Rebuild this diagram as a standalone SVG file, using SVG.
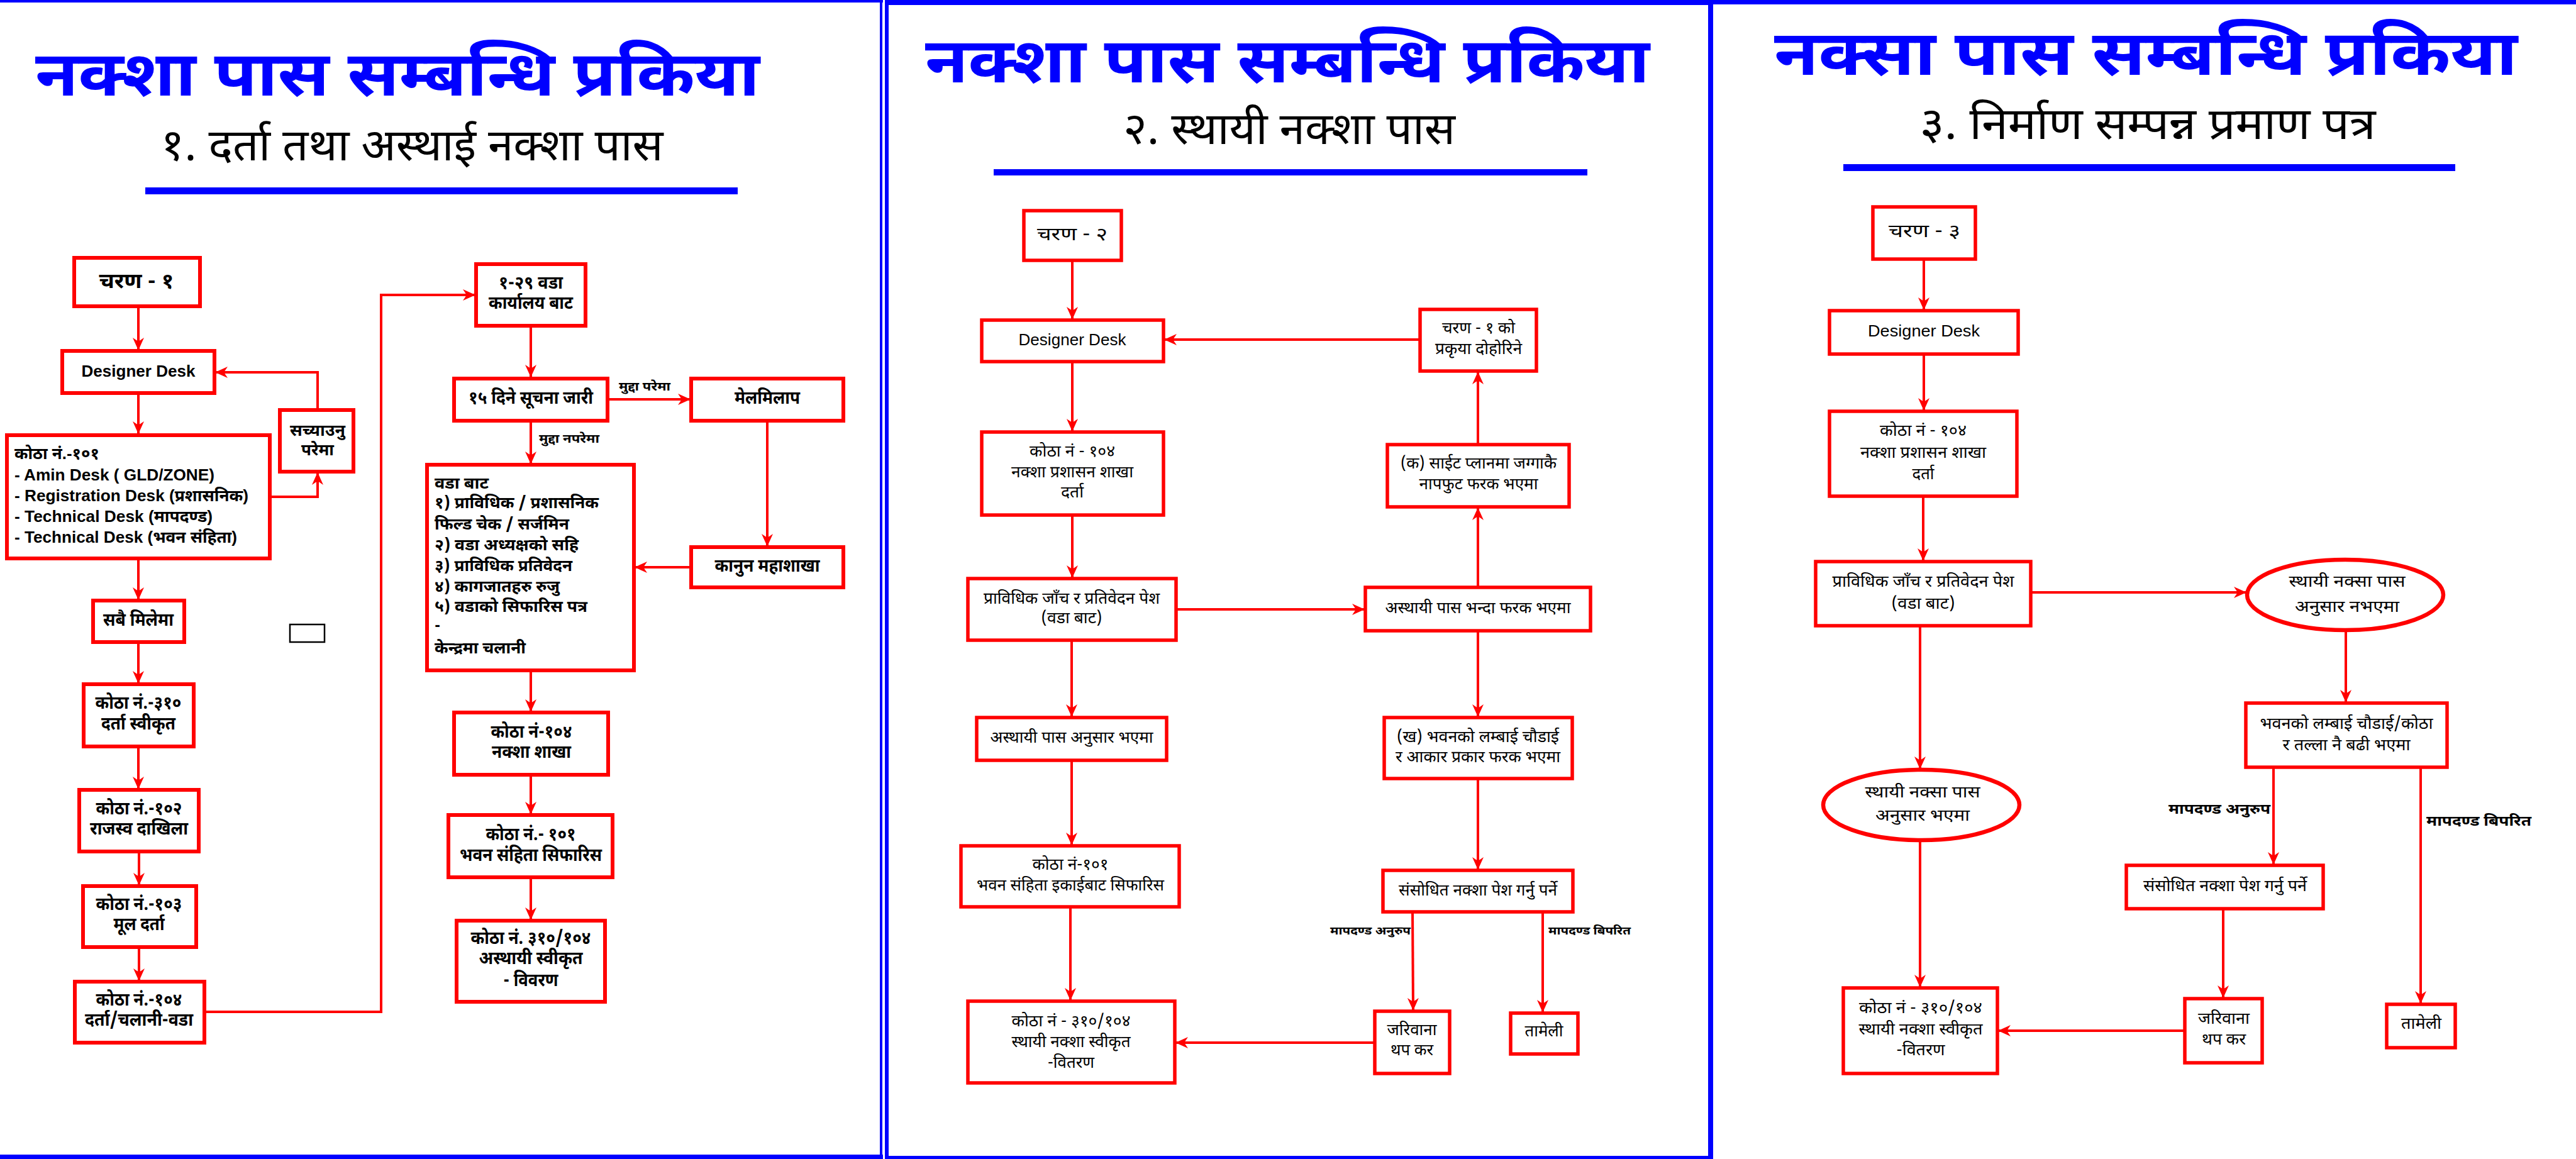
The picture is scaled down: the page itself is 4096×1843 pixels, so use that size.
<svg xmlns="http://www.w3.org/2000/svg" width="4096" height="1843" viewBox="0 0 4096 1843">
<defs>
<marker id="ah" viewBox="0 0 20 20" refX="19" refY="10" markerWidth="20" markerHeight="20" markerUnits="userSpaceOnUse" orient="auto"><path d="M0,1 L20,10 L0,19 L6,10 z" fill="#FF0000"/></marker>
<style>
text{font-family:"Noto Sans Devanagari","Noto Sans","Liberation Sans",sans-serif;fill:#000}
.ttl{font-size:100px;font-weight:bold;fill:#0000FF;text-anchor:middle}
.sub{font-size:70px;text-anchor:middle}
.b1{font-size:28px;font-weight:bold;text-anchor:middle}
.b1l{font-size:25px;font-weight:bold}
.lat{font-family:"Liberation Sans","Noto Sans Devanagari",sans-serif}
.lb1{font-size:19px;font-weight:bold}
.r2{font-size:26px;text-anchor:middle}
.lb2{font-size:18px;font-weight:bold}
.lb3{font-size:22px;font-weight:bold}
.box{fill:#FFFFFF;stroke:#FF0000;stroke-width:6}
.box2{fill:#FFFFFF;stroke:#FF0000;stroke-width:5.5}
.ell{fill:#FFFFFF;stroke:#FF0000;stroke-width:6.5}
.c1{fill:none;stroke:#FF0000;stroke-width:4;marker-end:url(#ah)}
.c2{fill:none;stroke:#FF0000;stroke-width:4;marker-end:url(#ah)}
.bl{fill:#0000FF}
</style>
</defs>
<rect width="4096" height="1843" fill="#FFFFFF"/>

<g id="frames">
<rect class="bl" x="0" y="0" width="1404" height="4"/>
<rect class="bl" x="1399" y="0" width="4" height="1843"/>
<rect class="bl" x="0" y="1836" width="1404" height="7"/>
<rect class="bl" x="1407" y="0" width="1315" height="8"/>
<rect class="bl" x="1407" y="0" width="6" height="1843"/>
<rect class="bl" x="2716" y="0" width="8" height="1843"/>
<rect class="bl" x="1407" y="1838" width="1315" height="5"/>
<rect class="bl" x="2716" y="0" width="1380" height="7"/>
</g>

<g id="headings">
<text class="ttl" x="632" y="152" textLength="1152" lengthAdjust="spacingAndGlyphs">नक्शा पास सम्बन्धि प्रकिया</text>
<text class="sub" x="655" y="255" textLength="799" lengthAdjust="spacingAndGlyphs">१. दर्ता तथा अस्थाई नक्शा पास</text>
<rect class="bl" x="231" y="298" width="942" height="11"/>
<text class="ttl" x="2047" y="131" textLength="1152" lengthAdjust="spacingAndGlyphs">नक्शा पास सम्बन्धि प्रकिया</text>
<text class="sub" x="2050" y="229" textLength="528" lengthAdjust="spacingAndGlyphs">२. स्थायी नक्शा पास</text>
<rect class="bl" x="1580" y="269" width="944" height="10"/>
<text class="ttl" x="3412" y="119" textLength="1182" lengthAdjust="spacingAndGlyphs">नक्सा पास सम्बन्धि प्रकिया</text>
<text class="sub" x="3415" y="221" textLength="725" lengthAdjust="spacingAndGlyphs">३. निर्माण सम्पन्न प्रमाण पत्र</text>
<rect class="bl" x="2931" y="261" width="973" height="11"/>
</g>

<g id="connectors">
<path class="c1" d="M220,488 V556"/>
<path class="c1" d="M220,625 V689"/>
<path class="c1" d="M429,790 H505 V752"/>
<path class="c1" d="M505,652 V592 H343"/>
<path class="c1" d="M220,888 V953"/>
<path class="c1" d="M220,1021 V1086"/>
<path class="c1" d="M220,1187 V1254"/>
<path class="c1" d="M221,1354 V1407"/>
<path class="c1" d="M221,1506 V1559"/>
<path class="c1" d="M325,1609 H606 V469 H755"/>
<path class="c1" d="M844,518 V599"/>
<path class="c1" d="M966,635 H1097"/>
<path class="c1" d="M1220,669 V868"/>
<path class="c1" d="M1099,902 H1010"/>
<path class="c1" d="M844,669 V737"/>
<path class="c1" d="M844,1066 V1131"/>
<path class="c1" d="M844,1232 V1294"/>
<path class="c1" d="M844,1395 V1462"/>
<path class="c2" d="M1705,414 V507"/>
<path class="c2" d="M1705,575 V685"/>
<path class="c2" d="M1705,819 V918"/>
<path class="c2" d="M1870,969 H2169"/>
<path class="c2" d="M2350,934 V808"/>
<path class="c2" d="M2350,707 V592"/>
<path class="c2" d="M2258,540 H1852"/>
<path class="c2" d="M1704,1018 V1139"/>
<path class="c2" d="M1704,1209 V1343"/>
<path class="c2" d="M1702,1442 V1590"/>
<path class="c2" d="M2350,1003 V1139"/>
<path class="c2" d="M2350,1238 V1382"/>
<path class="c2" d="M2246,1450 L2247,1606"/>
<path class="c2" d="M2453,1450 V1609"/>
<path class="c2" d="M2186,1658 H1870"/>
<path class="c2" d="M3059,412 V492"/>
<path class="c2" d="M3059,563 V652"/>
<path class="c2" d="M3058,789 V891"/>
<path class="c2" d="M3229,942 H3571"/>
<path class="c2" d="M3730,1002 V1116"/>
<path class="c2" d="M3053,995 V1222"/>
<path class="c2" d="M3053,1336 V1569"/>
<path class="c2" d="M3615,1220 V1374"/>
<path class="c2" d="M3535,1445 V1586"/>
<path class="c2" d="M3849,1220 V1595"/>
<path class="c2" d="M3474,1639 H3178"/>
</g>

<g id="edge-labels">
<text class="lb1" x="984" y="621" textLength="82" lengthAdjust="spacingAndGlyphs">मुद्दा परेमा</text>
<text class="lb1" x="857" y="704" textLength="96" lengthAdjust="spacingAndGlyphs">मुद्दा नपरेमा</text>
<text class="lb2" x="2115" y="1486" textLength="128" lengthAdjust="spacingAndGlyphs">मापदण्ड अनुरुप</text>
<text class="lb2" x="2462" y="1486" textLength="131" lengthAdjust="spacingAndGlyphs">मापदण्ड बिपरित</text>
<text class="lb3" x="3448" y="1294" textLength="162" lengthAdjust="spacingAndGlyphs">मापदण्ड अनुरुप</text>
<text class="lb3" x="3858" y="1313" textLength="167" lengthAdjust="spacingAndGlyphs">मापदण्ड बिपरित</text>
</g>

<g id="p1-charan1"><rect class="box" x="118" y="410" width="200" height="77"/>
<text class="b1" x="217" y="458" style="font-size:33px" textLength="119" lengthAdjust="spacingAndGlyphs">चरण - १</text></g>
<g id="p1-designer"><rect class="box" x="99" y="558" width="242" height="67"/>
<text class="b1 lat" x="220" y="599" style="font-size:26px" textLength="181" lengthAdjust="spacingAndGlyphs">Designer Desk</text></g>
<g id="p1-kotha101"><rect class="box" x="11" y="692" width="418" height="196"/>
<text class="b1l lat" x="23" y="730" textLength="135" lengthAdjust="spacingAndGlyphs">कोठा नं.-१०१</text>
<text class="b1l lat" x="23" y="764" textLength="318" lengthAdjust="spacingAndGlyphs">- Amin Desk ( GLD/ZONE)</text>
<text class="b1l lat" x="23" y="797" textLength="372" lengthAdjust="spacingAndGlyphs">- Registration Desk (प्रशासनिक)</text>
<text class="b1l lat" x="23" y="830" textLength="315" lengthAdjust="spacingAndGlyphs">- Technical Desk (मापदण्ड)</text>
<text class="b1l lat" x="23" y="863" textLength="354" lengthAdjust="spacingAndGlyphs">- Technical Desk (भवन संहिता)</text></g>
<g id="p1-sachyaunu"><rect class="box" x="445" y="652" width="117" height="98"/>
<text class="b1" x="505" y="693" style="font-size:26px" textLength="88" lengthAdjust="spacingAndGlyphs">सच्याउनु</text>
<text class="b1" x="505" y="724" style="font-size:26px" textLength="52" lengthAdjust="spacingAndGlyphs">परेमा</text></g>
<g id="p1-sabai"><rect class="box" x="148" y="955" width="145" height="66"/>
<text class="b1" x="220" y="995" textLength="112" lengthAdjust="spacingAndGlyphs">सबै मिलेमा</text></g>
<g id="p1-blank"><rect x="461" y="993" width="55" height="28" fill="#FFFFFF" stroke="#000000" stroke-width="2.5"/></g>
<g id="p1-kotha310"><rect class="box" x="133" y="1088" width="175" height="99"/>
<text class="b1" x="220" y="1127" textLength="137" lengthAdjust="spacingAndGlyphs">कोठा नं.-३१०</text>
<text class="b1" x="220" y="1160" textLength="118" lengthAdjust="spacingAndGlyphs">दर्ता स्वीकृत</text></g>
<g id="p1-kotha102"><rect class="box" x="126" y="1256" width="190" height="98"/>
<text class="b1" x="221" y="1295" textLength="137" lengthAdjust="spacingAndGlyphs">कोठा नं.-१०२</text>
<text class="b1" x="221" y="1327" textLength="156" lengthAdjust="spacingAndGlyphs">राजस्व दाखिला</text></g>
<g id="p1-kotha103"><rect class="box" x="132" y="1409" width="180" height="97"/>
<text class="b1" x="221" y="1447" textLength="137" lengthAdjust="spacingAndGlyphs">कोठा नं.-१०३</text>
<text class="b1" x="221" y="1479" textLength="81" lengthAdjust="spacingAndGlyphs">मूल दर्ता</text></g>
<g id="p1-kotha104"><rect class="box" x="119" y="1561" width="206" height="97"/>
<text class="b1" x="221" y="1599" textLength="137" lengthAdjust="spacingAndGlyphs">कोठा नं.-१०४</text>
<text class="b1" x="221" y="1631" textLength="172" lengthAdjust="spacingAndGlyphs">दर्ता/चलानी-वडा</text></g>
<g id="p1-wada"><rect class="box" x="757" y="420" width="174" height="98"/>
<text class="b1" x="844" y="459" textLength="102" lengthAdjust="spacingAndGlyphs">१-२९ वडा</text>
<text class="b1" x="844" y="491" textLength="134" lengthAdjust="spacingAndGlyphs">कार्यालय बाट</text></g>
<g id="p1-suchana"><rect class="box" x="722" y="602" width="244" height="67"/>
<text class="b1" x="844" y="642" textLength="198" lengthAdjust="spacingAndGlyphs">१५ दिने सूचना जारी</text></g>
<g id="p1-melmilap"><rect class="box" x="1099" y="602" width="242" height="67"/>
<text class="b1" x="1220" y="642" textLength="104" lengthAdjust="spacingAndGlyphs">मेलमिलाप</text></g>
<g id="p1-kanun"><rect class="box" x="1099" y="870" width="242" height="64"/>
<text class="b1" x="1220" y="909" textLength="167" lengthAdjust="spacingAndGlyphs">कानुन महाशाखा</text></g>
<g id="p1-wadabata"><rect class="box" x="679" y="739" width="329" height="327"/>
<text class="b1l" x="691" y="777" textLength="86" lengthAdjust="spacingAndGlyphs">वडा बाट</text>
<text class="b1l" x="691" y="808" textLength="261" lengthAdjust="spacingAndGlyphs">१) प्राविधिक / प्रशासनिक</text>
<text class="b1l" x="691" y="842" textLength="214" lengthAdjust="spacingAndGlyphs">फिल्ड चेक / सर्जमिन</text>
<text class="b1l" x="691" y="875" textLength="229" lengthAdjust="spacingAndGlyphs">२) वडा अध्यक्षको सहि</text>
<text class="b1l" x="691" y="908" textLength="219" lengthAdjust="spacingAndGlyphs">३) प्राविधिक प्रतिवेदन</text>
<text class="b1l" x="691" y="941" textLength="199" lengthAdjust="spacingAndGlyphs">४) कागजातहरु रुजु</text>
<text class="b1l" x="691" y="973" textLength="243" lengthAdjust="spacingAndGlyphs">५) वडाको सिफारिस पत्र</text>
<text class="b1l" x="691" y="1003">-</text>
<text class="b1l" x="691" y="1039" textLength="145" lengthAdjust="spacingAndGlyphs">केन्द्रमा चलानी</text></g>
<g id="p1-naksasakha"><rect class="box" x="722" y="1133" width="245" height="99"/>
<text class="b1" x="845" y="1173" textLength="129" lengthAdjust="spacingAndGlyphs">कोठा नं-१०४</text>
<text class="b1" x="845" y="1205" textLength="126" lengthAdjust="spacingAndGlyphs">नक्शा शाखा</text></g>
<g id="p1-bhawan"><rect class="box" x="713" y="1296" width="261" height="99"/>
<text class="b1" x="844" y="1336" textLength="143" lengthAdjust="spacingAndGlyphs">कोठा नं.- १०१</text>
<text class="b1" x="844" y="1369" textLength="226" lengthAdjust="spacingAndGlyphs">भवन संहिता सिफारिस</text></g>
<g id="p1-asthayi"><rect class="box" x="726" y="1464" width="236" height="129"/>
<text class="b1" x="844" y="1501" textLength="191" lengthAdjust="spacingAndGlyphs">कोठा नं. ३१०/१०४</text>
<text class="b1" x="844" y="1533" textLength="165" lengthAdjust="spacingAndGlyphs">अस्थायी स्वीकृत</text>
<text class="b1" x="844" y="1568" textLength="87" lengthAdjust="spacingAndGlyphs">- विवरण</text></g>

<g id="p2-charan2"><rect class="box2" x="1628" y="335" width="155" height="79"/>
<text class="r2" x="1705" y="382" style="font-size:29px" textLength="112" lengthAdjust="spacingAndGlyphs">चरण - २</text></g>
<g id="p2-designer"><rect class="box2" x="1561" y="509" width="289" height="66"/>
<text class="r2 lat" x="1705" y="549" style="font-size:26px" textLength="171" lengthAdjust="spacingAndGlyphs">Designer Desk</text></g>
<g id="p2-kotha104"><rect class="box2" x="1561" y="687" width="289" height="132"/>
<text class="r2" x="1705" y="726" textLength="136" lengthAdjust="spacingAndGlyphs">कोठा नं - १०४</text>
<text class="r2" x="1705" y="759" textLength="194" lengthAdjust="spacingAndGlyphs">नक्शा प्रशासन शाखा</text>
<text class="r2" x="1705" y="791" textLength="36" lengthAdjust="spacingAndGlyphs">दर्ता</text></g>
<g id="p2-prabidhik"><rect class="box2" x="1539" y="920" width="331" height="98"/>
<text class="r2" x="1704" y="960" textLength="280" lengthAdjust="spacingAndGlyphs">प्राविधिक जाँच र प्रतिवेदन पेश</text>
<text class="r2" x="1704" y="991" textLength="97" lengthAdjust="spacingAndGlyphs">(वडा बाट)</text></g>
<g id="p2-pharak"><rect class="box2" x="2171" y="934" width="358" height="69"/>
<text class="r2" x="2350" y="975" textLength="295" lengthAdjust="spacingAndGlyphs">अस्थायी पास भन्दा फरक भएमा</text></g>
<g id="p2-ka"><rect class="box2" x="2206" y="707" width="289" height="99"/>
<text class="r2" x="2351" y="745" textLength="248" lengthAdjust="spacingAndGlyphs">(क) साईट प्लानमा जग्गाकै</text>
<text class="r2" x="2351" y="778" textLength="189" lengthAdjust="spacingAndGlyphs">नापफुट फरक भएमा</text></g>
<g id="p2-dohorine"><rect class="box2" x="2258" y="492" width="185" height="98"/>
<text class="r2" x="2351" y="530" textLength="116" lengthAdjust="spacingAndGlyphs">चरण - १ को</text>
<text class="r2" x="2351" y="563" textLength="138" lengthAdjust="spacingAndGlyphs">प्रकृया दोहोरिने</text></g>
<g id="p2-anusar"><rect class="box2" x="1553" y="1141" width="302" height="68"/>
<text class="r2" x="1704" y="1181" textLength="259" lengthAdjust="spacingAndGlyphs">अस्थायी पास अनुसार भएमा</text></g>
<g id="p2-kotha101"><rect class="box2" x="1528" y="1345" width="347" height="97"/>
<text class="r2" x="1702" y="1383" textLength="121" lengthAdjust="spacingAndGlyphs">कोठा नं-१०१</text>
<text class="r2" x="1702" y="1416" textLength="298" lengthAdjust="spacingAndGlyphs">भवन संहिता इकाईबाट सिफारिस</text></g>
<g id="p2-sthayi"><rect class="box2" x="1539" y="1592" width="329" height="130"/>
<text class="r2" x="1703" y="1632" textLength="189" lengthAdjust="spacingAndGlyphs">कोठा नं - ३१०/१०४</text>
<text class="r2" x="1703" y="1665" textLength="189" lengthAdjust="spacingAndGlyphs">स्थायी नक्शा स्वीकृत</text>
<text class="r2" x="1703" y="1698" textLength="74" lengthAdjust="spacingAndGlyphs">-वितरण</text></g>
<g id="p2-kha"><rect class="box2" x="2201" y="1141" width="299" height="97"/>
<text class="r2" x="2350" y="1180" textLength="258" lengthAdjust="spacingAndGlyphs">(ख) भवनको लम्बाई चौडाई</text>
<text class="r2" x="2350" y="1212" textLength="262" lengthAdjust="spacingAndGlyphs">र आकार प्रकार फरक भएमा</text></g>
<g id="p2-sansodhit"><rect class="box2" x="2199" y="1384" width="302" height="66"/>
<text class="r2" x="2350" y="1424" textLength="252" lengthAdjust="spacingAndGlyphs">संसोधित नक्शा पेश गर्नु पर्ने</text></g>
<g id="p2-jariwana"><rect class="box2" x="2186" y="1608" width="119" height="99"/>
<text class="r2" x="2245" y="1646" textLength="79" lengthAdjust="spacingAndGlyphs">जरिवाना</text>
<text class="r2" x="2245" y="1678" textLength="68" lengthAdjust="spacingAndGlyphs">थप कर</text></g>
<g id="p2-tameli"><rect class="box2" x="2402" y="1611" width="107" height="65"/>
<text class="r2" x="2455" y="1648" textLength="61" lengthAdjust="spacingAndGlyphs">तामेली</text></g>

<g id="p3-charan3"><rect class="box2" x="2978" y="329" width="163" height="83"/>
<text class="r2" x="3060" y="377" style="font-size:29px" textLength="114" lengthAdjust="spacingAndGlyphs">चरण - ३</text></g>
<g id="p3-designer"><rect class="box2" x="2909" y="494" width="300" height="69"/>
<text class="r2 lat" x="3059" y="535" style="font-size:26px" textLength="178" lengthAdjust="spacingAndGlyphs">Designer Desk</text></g>
<g id="p3-kotha104"><rect class="box2" x="2909" y="654" width="298" height="135"/>
<text class="r2" x="3058" y="693" textLength="138" lengthAdjust="spacingAndGlyphs">कोठा नं - १०४</text>
<text class="r2" x="3058" y="728" textLength="200" lengthAdjust="spacingAndGlyphs">नक्शा प्रशासन शाखा</text>
<text class="r2" x="3058" y="762" textLength="35" lengthAdjust="spacingAndGlyphs">दर्ता</text></g>
<g id="p3-prabidhik"><rect class="box2" x="2887" y="893" width="342" height="102"/>
<text class="r2" x="3058" y="933" textLength="289" lengthAdjust="spacingAndGlyphs">प्राविधिक जाँच र प्रतिवेदन पेश</text>
<text class="r2" x="3058" y="968" textLength="101" lengthAdjust="spacingAndGlyphs">(वडा बाट)</text></g>
<g id="p3-nabhaema"><ellipse class="ell" cx="3729" cy="946" rx="156" ry="56"/>
<text class="r2" x="3732" y="933" textLength="185" lengthAdjust="spacingAndGlyphs">स्थायी नक्सा पास</text>
<text class="r2" x="3732" y="973" textLength="166" lengthAdjust="spacingAndGlyphs">अनुसार नभएमा</text></g>
<g id="p3-badhi"><rect class="box2" x="3571" y="1118" width="320" height="102"/>
<text class="r2" x="3731" y="1159" textLength="275" lengthAdjust="spacingAndGlyphs">भवनको लम्बाई चौडाई/कोठा</text>
<text class="r2" x="3731" y="1193" textLength="203" lengthAdjust="spacingAndGlyphs">र तल्ला नै बढी भएमा</text></g>
<g id="p3-bhaema"><ellipse class="ell" cx="3055" cy="1280" rx="156" ry="56"/>
<text class="r2" x="3057" y="1268" textLength="183" lengthAdjust="spacingAndGlyphs">स्थायी नक्सा पास</text>
<text class="r2" x="3057" y="1305" textLength="150" lengthAdjust="spacingAndGlyphs">अनुसार भएमा</text></g>
<g id="p3-sthayi"><rect class="box2" x="2931" y="1571" width="245" height="136"/>
<text class="r2" x="3054" y="1611" textLength="196" lengthAdjust="spacingAndGlyphs">कोठा नं - ३१०/१०४</text>
<text class="r2" x="3054" y="1645" textLength="197" lengthAdjust="spacingAndGlyphs">स्थायी नक्शा स्वीकृत</text>
<text class="r2" x="3054" y="1678" textLength="77" lengthAdjust="spacingAndGlyphs">-वितरण</text></g>
<g id="p3-sansodhit"><rect class="box2" x="3381" y="1376" width="313" height="69"/>
<text class="r2" x="3538" y="1417" textLength="260" lengthAdjust="spacingAndGlyphs">संसोधित नक्शा पेश गर्नु पर्ने</text></g>
<g id="p3-jariwana"><rect class="box2" x="3474" y="1588" width="123" height="102"/>
<text class="r2" x="3536" y="1628" textLength="82" lengthAdjust="spacingAndGlyphs">जरिवाना</text>
<text class="r2" x="3536" y="1661" textLength="70" lengthAdjust="spacingAndGlyphs">थप कर</text></g>
<g id="p3-tameli"><rect class="box2" x="3795" y="1597" width="109" height="69"/>
<text class="r2" x="3850" y="1636" textLength="64" lengthAdjust="spacingAndGlyphs">तामेली</text></g>
</svg>
